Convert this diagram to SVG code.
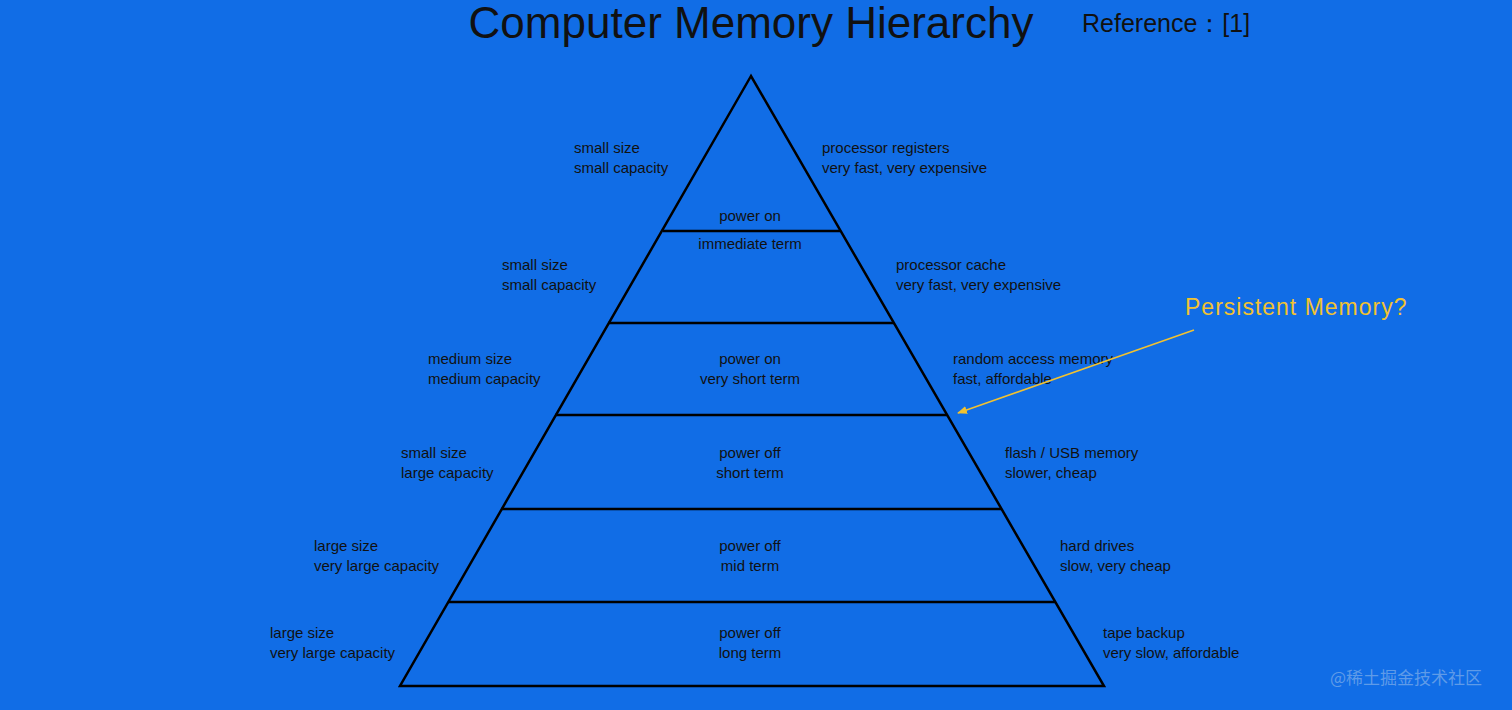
<svg xmlns="http://www.w3.org/2000/svg" width="1512" height="710" viewBox="0 0 1512 710">
<style>
text{font-family:"Liberation Sans",Arial,sans-serif;fill:#111}
.t{font-size:15px}
.c{text-anchor:middle}
.l{stroke:#000;stroke-width:2.5;fill:none}
</style>
<defs><marker id="a" markerWidth="10" markerHeight="8" refX="9" refY="4" orient="auto" markerUnits="userSpaceOnUse"><path d="M0,0L10,4L0,8z" fill="#f2c230"/></marker></defs>
<rect width="1512" height="710" fill="#116de6"/>
<text x="751" y="38" class="c" style="font-size:44px">Computer Memory Hierarchy</text>
<text x="1082" y="32" style="font-size:25px">Reference：[1]</text>
<g id="pyramid">
<path class="l" d="M751,76L400,686H1104Z"/>
<path class="l" d="M663,231H840M608,323H894M555,415H947M501,509H1001M448,602H1055"/>
</g>
<g id="layer1" class="t"><text x="574" y="153">small size</text><text x="574" y="173">small capacity</text><text x="822" y="153">processor registers</text><text x="822" y="173">very fast, very expensive</text><text x="750" y="221" class="c">power on</text></g>
<g id="layer2" class="t"><text x="750" y="249" class="c">immediate term</text><text x="502" y="270">small size</text><text x="502" y="290">small capacity</text><text x="896" y="270">processor cache</text><text x="896" y="290">very fast, very expensive</text></g>
<g id="layer3" class="t"><text x="428" y="364">medium size</text><text x="428" y="384">medium capacity</text><text x="750" y="364" class="c">power on</text><text x="750" y="384" class="c">very short term</text><text x="953" y="364">random access memory</text><text x="953" y="384">fast, affordable</text></g>
<g id="layer4" class="t"><text x="401" y="458">small size</text><text x="401" y="478">large capacity</text><text x="750" y="458" class="c">power off</text><text x="750" y="478" class="c">short term</text><text x="1005" y="458">flash / USB memory</text><text x="1005" y="478">slower, cheap</text></g>
<g id="layer5" class="t"><text x="314" y="551">large size</text><text x="314" y="571">very large capacity</text><text x="750" y="551" class="c">power off</text><text x="750" y="571" class="c">mid term</text><text x="1060" y="551">hard drives</text><text x="1060" y="571">slow, very cheap</text></g>
<g id="layer6" class="t"><text x="270" y="638">large size</text><text x="270" y="658">very large capacity</text><text x="750" y="638" class="c">power off</text><text x="750" y="658" class="c">long term</text><text x="1103" y="638">tape backup</text><text x="1103" y="658">very slow, affordable</text></g>
<g id="pm"><text x="1185" y="315" style="font-size:23px;letter-spacing:1px;fill:#f2c230">Persistent  Memory?</text></g>
<g id="connectors"><path d="M1194,330L958,413" stroke="#f2c230" stroke-width="1.5" marker-end="url(#a)"/></g>
<text x="1330" y="684" style="font-size:17px;fill:#5f9be8;font-family:'Noto Sans CJK SC',sans-serif">@稀土掘金技术社区</text>
</svg>
